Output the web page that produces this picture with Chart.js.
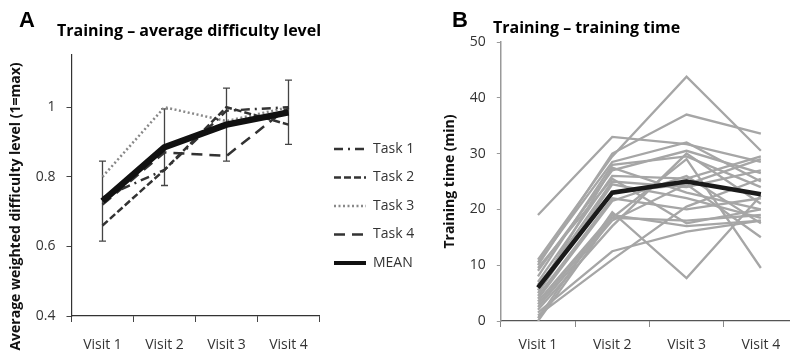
<!DOCTYPE html>
<html>
<head>
<meta charset="utf-8">
<script src="https://cdn.jsdelivr.net/npm/chart.js@4.4.1/dist/chart.umd.min.js"></script>
<style>
  html, body { margin:0; padding:0; background:#fff; overflow:hidden; width:790px; height:356px; }
  #panel-a { position:absolute; left:0; top:0; width:440px; height:356px; }
  #panel-b { position:absolute; left:440px; top:0; width:366px; height:356px; }
</style>
</head>
<body>
<div id="panel-a"><canvas id="chartA"></canvas></div>
<div id="panel-b"><canvas id="chartB"></canvas></div>
<script>
// Categories
const visits = ["Visit 1", "Visit 2", "Visit 3", "Visit 4"]

// Panel A - average difficulty level
const task1 = [0.74, 0.82, 0.99, 1.0]
const task2 = [0.66, 0.82, 1.0, 0.95]
const task3 = [0.80, 1.0, 0.96, 1.0]
const task4 = [0.72, 0.87, 0.86, 1.0]
const meanDifficulty = [0.73, 0.885, 0.95, 0.985]
const errLow = [0.615, 0.775, 0.845, 0.893]
const errHigh = [0.845, 0.995, 1.055, 1.078]
const difficultyTicks = [0.4, 0.6, 0.8, 1]

// Panel B - training time per subject (min)
const subjectTimes = [
    [19, 33, 31.7, 28.5],
    [11, 29.5, 43.8, 30.5],
    [10, 30, 37, 33.6],
    [10.5, 28.5, 32, 25],
    [9, 27, 30.5, 26.5],
    [8, 28, 29.5, 24],
    [7, 26, 25.5, 29.5],
    [6, 25, 24, 27],
    [5.5, 27.5, 23, 20],
    [5, 24.5, 22, 18.5],
    [4.5, 22, 20, 22],
    [4, 21.5, 26, 17.5],
    [3.5, 19, 17, 18],
    [3, 18.5, 18, 19],
    [2.5, 18, 24.5, 15],
    [2, 17, 30, 21],
    [1.5, 12.5, 16, 18],
    [1, 11, 20.5, 25.5],
    [0.5, 19.5, 7.7, 22.5],
    [0, 18.5, 29, 9.5],
    [6.5, 23, 24.5, 29],
    [9.5, 25.5, 17.5, 20]
]
const meanTime = [6, 23, 25, 22.7]
const timeTicks = [0, 10, 20, 30, 40, 50]

const FONT = "'Open Sans', sans-serif"
Chart.defaults.font.family = FONT
Chart.defaults.color = "#333"

// Error bars drawn from the low / high arrays
const errorBars = {
    id: "errorBars",
    beforeDatasetsDraw(chart, args, opts) {
        if (!opts.low) return
        const xs = chart.scales.x
        const ys = chart.scales.y
        const ctx = chart.ctx
        ctx.save()
        ctx.strokeStyle = opts.color
        ctx.lineWidth = opts.width
        for (let i = 0; i < opts.low.length; i++) {
            let px = xs.getPixelForValue(i)
            let yl = ys.getPixelForValue(opts.low[i])
            let yh = ys.getPixelForValue(opts.high[i])
            ctx.beginPath()
            ctx.moveTo(px, yl); ctx.lineTo(px, yh)
            ctx.moveTo(px - opts.cap, yl); ctx.lineTo(px + opts.cap, yl)
            ctx.moveTo(px - opts.cap, yh); ctx.lineTo(px + opts.cap, yh)
            ctx.stroke()
        }
        ctx.restore()
    }
}

// Panel letter and heading
const panelHeading = {
    id: "panelHeading",
    afterDraw(chart, args, opts) {
        const ctx = chart.ctx
        ctx.save()
        ctx.fillStyle = "#000"
        ctx.textBaseline = "alphabetic"
        ctx.font = "bold 22px 'Liberation Sans', Arial, sans-serif"
        ctx.fillText(opts.letter, opts.letterX, opts.letterY)
        ctx.font = "bold 16px " + FONT
        ctx.fillText(opts.text, opts.textX, opts.textY)
        ctx.restore()
    }
}

// Chart A
const taskStyles = [
    { label: "Task 1", data: task1, color: "#333", dash: [9, 5, 2, 5] },
    { label: "Task 2", data: task2, color: "#333", dash: [7, 3] },
    { label: "Task 3", data: task3, color: "#888", dash: [2, 2.5] },
    { label: "Task 4", data: task4, color: "#333", dash: [11, 7] }
]

let datasetsA = [{
    label: "MEAN",
    data: meanDifficulty,
    borderColor: "#111",
    borderWidth: 6.5,
    pointRadius: 0,
    borderJoinStyle: "round"
}]
for (let i = 0; i < taskStyles.length; i++) {
    let t = taskStyles[i]
    datasetsA.push({
        label: t.label,
        data: t.data,
        borderColor: t.color,
        borderWidth: 2.5,
        borderDash: t.dash,
        pointRadius: 0
    })
}

new Chart(document.getElementById("chartA"), {
    type: "line",
    data: { labels: visits, datasets: datasetsA },
    plugins: [errorBars, panelHeading],
    options: {
        responsive: true,
        maintainAspectRatio: false,
        animation: false,
        layout: { padding: { top: 55, left: 6, right: 16, bottom: 0 } },
        scales: {
            x: {
                offset: true,
                afterFit: function(scale) { scale.height = 40 },
                grid: { offset: true, drawOnChartArea: false, tickLength: 6, color: "#444", lineWidth: 1 },
                border: { color: "#333", width: 1.2 },
                ticks: { font: { size: 14 }, color: "#333", padding: 15, maxRotation: 0 }
            },
            y: {
                min: 0.4,
                max: 1.15,
                afterBuildTicks: function(scale) {
                    scale.ticks = difficultyTicks.map(v => ({ value: v }))
                },
                grid: { drawOnChartArea: false, tickLength: 5, color: "#444" },
                border: { color: "#333", width: 1.2 },
                ticks: {
                    font: { size: 14 }, color: "#333", padding: 11,
                    callback: v => String(+v.toFixed(2))
                },
                title: {
                    display: true,
                    text: "Average weighted difficulty level (1=max)\u2002\u2002\u2002\u2002\u2002\u2002",
                    font: { size: 14, weight: "bold" },
                    color: "#111",
                    padding: { top: 2, bottom: 0 }
                }
            }
        },
        plugins: {
            legend: {
                position: "right",
                fullSize: false,
                title: { display: true, text: " ", font: { size: 10 }, padding: { top: 14.5, bottom: 14.5 } },
                labels: {
                    usePointStyle: true,
                    pointStyleWidth: 32,
                    padding: 14.5,
                    font: { size: 14 },
                    color: "#333",
                    generateLabels: function(chart) {
                        let items = []
                        for (let i = 0; i < taskStyles.length; i++) {
                            items.push({
                                text: taskStyles[i].label,
                                strokeStyle: taskStyles[i].color,
                                fillStyle: taskStyles[i].color,
                                lineWidth: 2.5,
                                lineDash: taskStyles[i].dash,
                                pointStyle: "line",
                                datasetIndex: i + 1
                            })
                        }
                        items.push({
                            text: "MEAN",
                            strokeStyle: "#111",
                            fillStyle: "#111",
                            lineWidth: 4,
                            lineDash: [],
                            pointStyle: "line",
                            datasetIndex: 0
                        })
                        return items
                    }
                }
            },
            tooltip: { enabled: false },
            errorBars: { low: errLow, high: errHigh, color: "#444", width: 1.3, cap: 3.5 },
            panelHeading: { letter: "A", letterX: 19, letterY: 27, text: "Training \u2013 average difficulty level", textX: 57, textY: 36 }
        }
    }
})

// Chart B
let datasetsB = [{
    label: "Mean",
    data: meanTime,
    borderColor: "#1a1a1a",
    borderWidth: 4.5,
    pointRadius: 0
}]
for (let i = 0; i < subjectTimes.length; i++) {
    datasetsB.push({
        label: "Subject " + (i + 1),
        data: subjectTimes[i],
        borderColor: "#a6a6a6",
        borderWidth: 2.3,
        pointRadius: 0
    })
}

new Chart(document.getElementById("chartB"), {
    type: "line",
    data: { labels: visits, datasets: datasetsB },
    plugins: [panelHeading],
    options: {
        responsive: true,
        maintainAspectRatio: false,
        animation: false,
        layout: { padding: { top: 42, left: 0, right: 8, bottom: 0 } },
        scales: {
            x: {
                offset: true,
                afterFit: function(scale) { scale.height = 35 },
                grid: { offset: true, drawOnChartArea: false, tickLength: 6, color: "#888" },
                border: { color: "#555", width: 1.2 },
                ticks: { font: { size: 14 }, color: "#333", padding: 10, maxRotation: 0 }
            },
            y: {
                min: 0,
                max: 50,
                afterBuildTicks: function(scale) {
                    scale.ticks = timeTicks.map(v => ({ value: v }))
                },
                grid: { drawOnChartArea: false, tickLength: 4, color: "#999" },
                border: { color: "#999", width: 1.5 },
                ticks: { font: { size: 14 }, color: "#333", padding: 11 },
                title: {
                    display: true,
                    text: "Training time (min)",
                    font: { size: 14, weight: "bold" },
                    color: "#111",
                    padding: { top: 2, bottom: 0 }
                }
            }
        },
        plugins: {
            legend: { display: false },
            tooltip: { enabled: false },
            panelHeading: { letter: "B", letterX: 12, letterY: 27, text: "Training \u2013 training time", textX: 53, textY: 33 }
        }
    }
})
</script>
</body>
</html>
